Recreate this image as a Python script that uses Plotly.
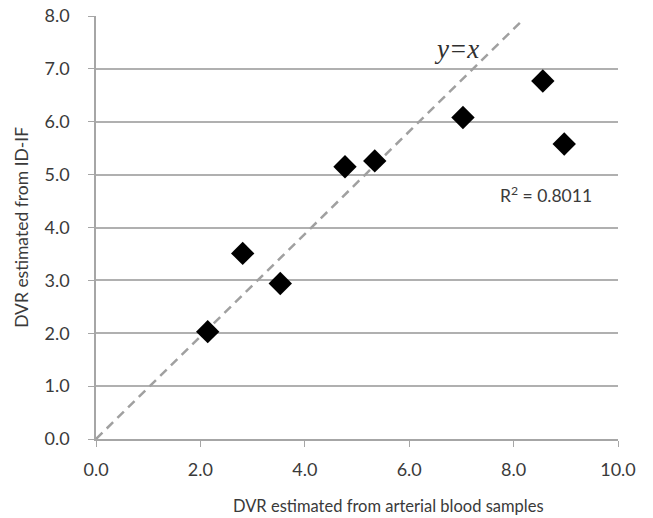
import plotly.graph_objects as go

# Data
x_arterial = [2.14, 2.81, 3.53, 4.77, 5.34, 7.03, 8.56, 8.97]
y_idif = [2.03, 3.51, 2.94, 5.15, 5.26, 6.08, 6.77, 5.58]

identity_x = [0.0, 8.15]
identity_y = [0.0, 7.9]

x_ticks = [0, 2, 4, 6, 8, 10]
x_ticklabels = ["0.0", "2.0", "4.0", "6.0", "8.0", "10.0"]
y_ticks = [0, 1, 2, 3, 4, 5, 6, 7, 8]
y_ticklabels = ["0.0", "1.0", "2.0", "3.0", "4.0", "5.0", "6.0", "7.0", "8.0"]

r2_text = "R<sup>2</sup> = 0.8011"
line_label = "<i>y=x</i>"
x_title = "DVR estimated from arterial blood samples"
y_title = "DVR estimated from ID-IF"

FONT = "Lato"
TXT = "#3a3a3a"

fig = go.Figure()
fig.add_trace(go.Scatter(
    x=identity_x, y=identity_y, mode="lines",
    line=dict(color="#a0a0a0", width=2.5, dash="9px,6px"),
    hoverinfo="skip", showlegend=False))
fig.add_trace(go.Scatter(
    x=x_arterial, y=y_idif, mode="markers",
    marker=dict(symbol="diamond", size=18, color="black"),
    showlegend=False))

fig.update_layout(
    width=653, height=518,
    margin=dict(l=96, r=35, t=16, b=79),
    plot_bgcolor="white", paper_bgcolor="white",
    font=dict(family=FONT, size=16, color=TXT),
    xaxis=dict(range=[0, 10], tickvals=x_ticks, ticktext=x_ticklabels,
               showgrid=False, zeroline=False, showline=True, automargin=False,
               linecolor="#a6a6a6", linewidth=1.5,
               ticks="outside", ticklen=6, tickcolor="#a6a6a6",
               tickfont=dict(size=18, color=TXT, family=FONT),
               ticklabelstandoff=8),
    yaxis=dict(range=[0, 8], tickvals=y_ticks, ticktext=y_ticklabels,
               showgrid=True, gridcolor="#b0b0b0", gridwidth=1.5,
               zeroline=False, showline=True, automargin=False,
               linecolor="#a6a6a6", linewidth=1.5,
               ticks="outside", ticklen=6, tickcolor="#a6a6a6",
               tickfont=dict(size=18, color=TXT, family=FONT),
               ticklabelstandoff=15),
    annotations=[
        dict(text=x_title, xref="paper", yref="paper", x=0.561, y=-0.158,
             xanchor="center", yanchor="middle", showarrow=False,
             font=dict(size=16.5, color=TXT, family=FONT)),
        dict(text=y_title, xref="paper", yref="paper", x=-0.143, y=0.5,
             xanchor="center", yanchor="middle", showarrow=False, textangle=-90,
             font=dict(size=17.5, color=TXT, family=FONT)),
        dict(text=line_label, xref="paper", yref="paper", x=0.69, y=0.922,
             xanchor="center", yanchor="middle", showarrow=False,
             font=dict(size=27, color="#303030", family="Liberation Serif")),
        dict(text=r2_text, xref="paper", yref="paper", x=0.862, y=0.578,
             xanchor="center", yanchor="middle", showarrow=False,
             font=dict(size=17.5, color=TXT, family=FONT)),
    ],
)

fig.write_html("out.html")
